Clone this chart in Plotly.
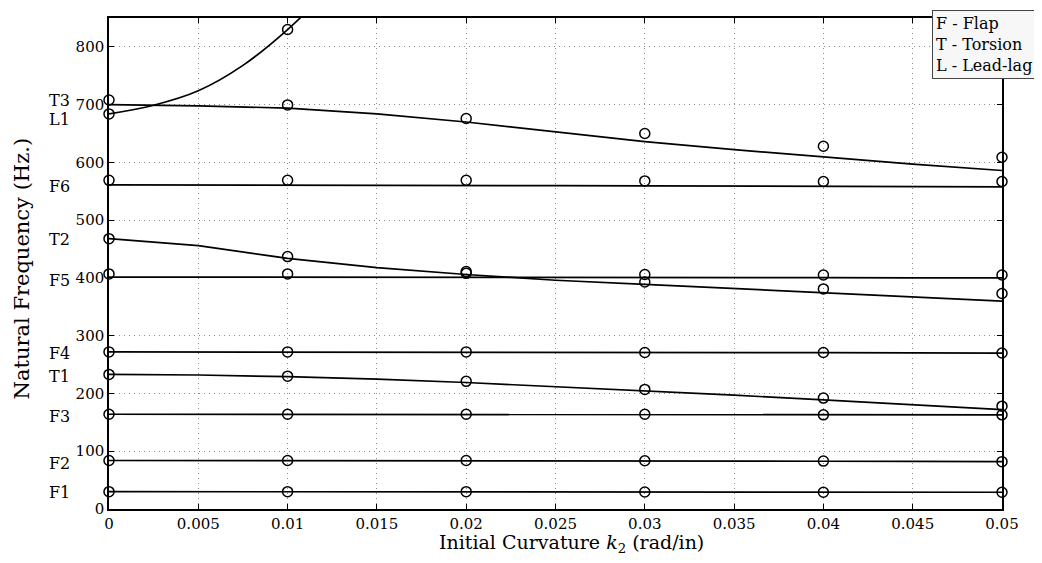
import plotly.graph_objects as go

# ---------------- data ----------------
k_pts = [0.0, 0.01, 0.02, 0.03, 0.04, 0.05]
k_line = [0.0, 0.005, 0.01, 0.015, 0.02, 0.025, 0.03, 0.035, 0.04, 0.045, 0.05]
k_l1_line = [0.0, 0.0025, 0.005, 0.0075, 0.01, 0.0125]

f1_pts = [30, 30, 30, 29.5, 29, 29]
f1_line = [30, 30, 30, 30, 29.8, 29.6, 29.5, 29.3, 29.2, 29.1, 29]
f2_pts = [84, 84, 84, 83.5, 83, 82]
f2_line = [84, 84, 84, 83.8, 83.6, 83.4, 83.2, 83, 82.7, 82.4, 82]
f3_pts = [164, 164, 164, 164, 163, 163]
f3_line = [164, 164, 164, 164, 164, 163.8, 163.6, 163.4, 163.2, 163, 163]
t1_pts = [233, 230, 221, 207, 192, 178]
t1_line = [233, 232, 229, 225, 219, 212, 205, 197, 189, 180, 172]
f4_pts = [272, 272, 272, 271, 271, 270]
f4_line = [272, 272, 272, 271.8, 271.6, 271.4, 271.2, 271, 270.7, 270.4, 270]
f5_pts = [407, 407, 408, 406, 405, 405]
f5_line = [401.5, 401.5, 401.4, 401.3, 401.2, 401, 400.8, 400.6, 400.4, 400.2, 400]
t2_pts = [468, 437, 411, 393, 381, 373]
t2_line = [468, 456, 434, 418, 406, 396, 389, 382, 375, 367, 360]
f6_pts = [569, 569, 569, 568, 567, 567]
f6_line = [561, 561, 560.8, 560.5, 560.2, 559.8, 559.4, 559, 558.6, 558.2, 557.8]
t3_pts = [708, 699.5, 676, 650, 628, 609]
t3_line = [700, 698, 694, 684, 670, 653, 636, 622, 609, 597, 586]
l1_pts = [684, 830]
l1_line = [684, 699, 724, 768, 830, 905]

mode_labels = ["T3", "L1", "F6", "T2", "F5", "F4", "T1", "F3", "F2", "F1"]
mode_label_y = [708, 674, 559, 466, 396, 269, 230, 160, 79, 28.6]

x_tickvals = [0, 0.005, 0.01, 0.015, 0.02, 0.025, 0.03, 0.035, 0.04, 0.045, 0.05]
x_ticktext = ["0", "0.005", "0.01", "0.015", "0.02", "0.025", "0.03", "0.035", "0.04", "0.045", "0.05"]
y_tickvals = [0, 100, 200, 300, 400, 500, 600, 700, 800]
y_ticktext = ["0", "100", "200", "300", "400", "500", "600", "700", "800"]

# ---------------- figure ----------------
FONT = "DejaVu Serif"
fig = go.Figure()

line_series = [
    (k_line, f1_line, "linear"), (k_line, f2_line, "linear"), (k_line, f3_line, "linear"),
    (k_line, t1_line, "linear"), (k_line, f4_line, "linear"), (k_line, f5_line, "linear"),
    (k_line, t2_line, "linear"), (k_line, f6_line, "linear"), (k_line, t3_line, "linear"),
    (k_l1_line, l1_line, "spline"),
]
for xs, ys, shp in line_series:
    fig.add_trace(go.Scatter(x=xs, y=ys, mode="lines",
                             line=dict(color="black", width=1.7, shape=shp),
                             showlegend=False, hoverinfo="skip"))

pt_series = [
    (k_pts, f1_pts), (k_pts, f2_pts), (k_pts, f3_pts), (k_pts, t1_pts),
    (k_pts, f4_pts), (k_pts, f5_pts), (k_pts, t2_pts), (k_pts, f6_pts),
    (k_pts, t3_pts), (k_pts[:2], l1_pts),
]
for xs, ys in pt_series:
    fig.add_trace(go.Scatter(x=xs, y=ys, mode="markers",
                             marker=dict(symbol="circle-open", size=10,
                                         color="black", line=dict(width=1.5)),
                             showlegend=False, cliponaxis=False))

axis_common = dict(
    showline=True, linecolor="black", linewidth=1.5, mirror="ticks",
    ticks="inside", ticklen=5, tickcolor="black", tickwidth=1,
    showgrid=True, gridcolor="#8c8c8c", gridwidth=1, griddash="1px,4px",
    zeroline=False, tickfont=dict(family=FONT, size=15, color="black"),
)
fig.update_xaxes(range=[0, 0.05], tickvals=x_tickvals, ticktext=x_ticktext, **axis_common)
fig.update_yaxes(range=[0, 850], tickvals=y_tickvals, ticktext=y_ticktext, **axis_common)

annotations = []
for lab, yv in zip(mode_labels, mode_label_y):
    annotations.append(dict(x=-0.041, y=yv, xref="paper", yref="y", text=lab,
                            showarrow=False, xanchor="right", yanchor="middle",
                            font=dict(family=FONT, size=16, color="black")))

annotations.append(dict(x=0.518, y=-0.041, xref="paper", yref="paper",
                        text="Initial Curvature <i>k</i><sub>2</sub> (rad/in)",
                        showarrow=False, xanchor="center", yanchor="top",
                        font=dict(family=FONT, size=19, color="black")))
annotations.append(dict(x=-0.0974, y=0.49, xref="paper", yref="paper",
                        text="Natural Frequency (Hz.)", textangle=-90,
                        showarrow=False, xanchor="center", yanchor="middle",
                        font=dict(family=FONT, size=21, color="black")))
annotations.append(dict(x=1.038, y=1.0162, xref="paper", yref="paper",
                        text="F - Flap<br>T - Torsion<br>L - Lead-lag",
                        showarrow=False, xanchor="right", yanchor="top", align="left",
                        bgcolor="#f7f7f7", bordercolor="#444444", borderwidth=1, borderpad=3,
                        font=dict(family=FONT, size=16, color="black")))

# the page body adds an 8 px offset; size the figure so the plot lands where the reference has it
fig.update_layout(
    width=1034, height=555,
    margin=dict(l=101, r=40, t=8, b=54),
    paper_bgcolor="white", plot_bgcolor="white",
    annotations=annotations, showlegend=False,
)

fig.write_html("out.html")
